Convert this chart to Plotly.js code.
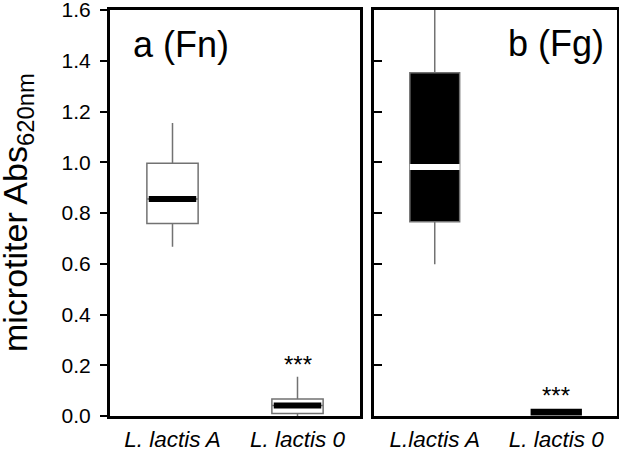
<!DOCTYPE html>
<html>
<head>
<meta charset="utf-8">
<script src="https://cdn.plot.ly/plotly-3.0.1.min.js"></script>
<style>html,body{margin:0;padding:0;background:#fff;}#chart{width:619px;height:452px;}</style>
</head>
<body>
<div id="chart"></div>
<script>
// Panel a (Fn)
const categoriesFn = ['L. lactis A', 'L. lactis 0'];
const fnLower  = [0.667, 0.000];
const fnQ1     = [0.759, 0.010];
const fnMedian = [0.855, 0.041];
const fnQ3     = [0.996, 0.067];
const fnUpper  = [1.155, 0.155];
// Panel b (Fg)
const categoriesFg = ['L.lactis A', 'L. lactis 0'];
const fgLower  = [0.598, 0.005];
const fgQ1     = [0.766, 0.005];
const fgMedian = [0.981, 0.015];
const fgQ3     = [1.353, 0.026];
const fgUpper  = [1.600, 0.026];
// y ticks
const yTickVals = [0.0, 0.2, 0.4, 0.6, 0.8, 1.0, 1.2, 1.4, 1.6];
const yTickText = ['0.0', '0.2', '0.4', '0.6', '0.8', '1.0', '1.2', '1.4', '1.6'];
// titles, panel labels and significance marks
const yTitle = 'microtiter Abs<sub>620nm</sub>';
const panelLabels = ['a (Fn)', 'b (Fg)'];
const sigLabels = ['***', '***'];

const FONT = 'Liberation Sans, Arial, sans-serif';
const BOXW = 0.41;

function boxTrace(cat, lo, q1, med, q3, hi, xa, ya, fill, lineCol, lw) {
  return {
    type: 'box', x: [cat], q1: [q1], median: [med], q3: [q3],
    lowerfence: [lo], upperfence: [hi],
    xaxis: xa, yaxis: ya, width: BOXW, whiskerwidth: 0,
    fillcolor: fill, line: {color: lineCol, width: lw},
    boxpoints: false, hoverinfo: 'skip'
  };
}
function medianTrace(cat, med, xa, ya, col, w) {
  return {
    type: 'box', x: [cat], q1: [med], median: [med], q3: [med],
    lowerfence: [med], upperfence: [med],
    xaxis: xa, yaxis: ya, width: w, whiskerwidth: 0,
    fillcolor: col, line: {color: col, width: 6},
    boxpoints: false, hoverinfo: 'skip'
  };
}

const traces = [];
for (let i = 0; i < categoriesFn.length; i++) {
  traces.push(boxTrace(categoriesFn[i], fnLower[i], fnQ1[i], fnMedian[i], fnQ3[i], fnUpper[i], 'x', 'y', '#ffffff', '#727272', 1.5));
  traces.push(medianTrace(categoriesFn[i], fnMedian[i], 'x', 'y', '#000000', 0.38));
}
traces.push(boxTrace(categoriesFg[0], fgLower[0], fgQ1[0], fgMedian[0], fgQ3[0], fgUpper[0], 'x2', 'y2', '#000000', '#727272', 1.5));
traces.push(medianTrace(categoriesFg[0], fgMedian[0], 'x2', 'y2', '#ffffff', 0.41));
traces.push(boxTrace(categoriesFg[1], fgLower[1], fgQ1[1], fgMedian[1], fgQ3[1], fgUpper[1], 'x2', 'y2', '#000000', '#000000', 1.5));

const frame = {showline: true, mirror: true, linewidth: 3, linecolor: '#000', showgrid: false, zeroline: false, fixedrange: true};

const layout = {
  width: 619, height: 452,
  margin: {l: 110, r: 2, t: 10, b: 36},
  paper_bgcolor: '#fff', plot_bgcolor: '#fff',
  showlegend: false, boxmode: 'overlay',
  font: {family: FONT, color: '#000'},
  xaxis: Object.assign({}, frame, {
    domain: [0, 0.4931], type: 'category', range: [-0.5, 1.5],
    categoryarray: categoriesFn, categoryorder: 'array',
    ticks: '', ticklabelstandoff: 1, ticklabeloverflow: 'allow',
    tickfont: {family: FONT, size: 22.5, style: 'italic', color: '#000'}
  }),
  yaxis: Object.assign({}, frame, {
    range: [0, 1.6], tickmode: 'array', tickvals: yTickVals, ticktext: yTickText,
    ticks: 'outside', ticklen: 7, tickwidth: 2, tickcolor: '#000',
    ticklabeloverflow: 'allow', ticklabelstandoff: 5,
    tickfont: {family: FONT, size: 21, color: '#000'},
    automargin: false
  }),
  xaxis2: Object.assign({}, frame, {
    domain: [0.5207, 1], anchor: 'y2', type: 'category', range: [-0.5, 1.5],
    categoryarray: categoriesFg, categoryorder: 'array',
    ticks: '', ticklabelstandoff: 1, ticklabeloverflow: 'allow',
    tickfont: {family: FONT, size: 22.5, style: 'italic', color: '#000'}
  }),
  yaxis2: Object.assign({}, frame, {
    anchor: 'x2', range: [0, 1.6], tickmode: 'array', tickvals: yTickVals,
    ticks: 'inside', ticklen: 8, tickwidth: 2, tickcolor: '#000',
    showticklabels: false
  }),
  annotations: [
    {xref: 'paper', yref: 'paper', x: -0.1834, y: 0.5, xanchor: 'center', yanchor: 'middle', textangle: -90,
     text: yTitle, showarrow: false, font: {family: FONT, size: 34, color: '#000'}},
    {xref: 'x domain', yref: 'y domain', x: 0.084, y: 0.916, xanchor: 'left', yanchor: 'middle',
     text: panelLabels[0], showarrow: false, font: {family: FONT, size: 36, color: '#000'}},
    {xref: 'x2 domain', yref: 'y2 domain', x: 0.955, y: 0.918, xanchor: 'right', yanchor: 'middle',
     text: panelLabels[1], showarrow: false, font: {family: FONT, size: 36, color: '#000'}},
    {xref: 'x', yref: 'y', x: categoriesFn[1], y: fnUpper[1], xanchor: 'center', yanchor: 'bottom', yshift: -3,
     text: sigLabels[0], showarrow: false, font: {family: FONT, size: 24, color: '#000'}},
    {xref: 'x2', yref: 'y2', x: categoriesFg[1], y: fgQ3[1], xanchor: 'center', yanchor: 'bottom', yshift: -2,
     text: sigLabels[1], showarrow: false, font: {family: FONT, size: 24, color: '#000'}}
  ]
};

Plotly.newPlot('chart', traces, layout, {staticPlot: true, displayModeBar: false});
</script>
</body>
</html>
